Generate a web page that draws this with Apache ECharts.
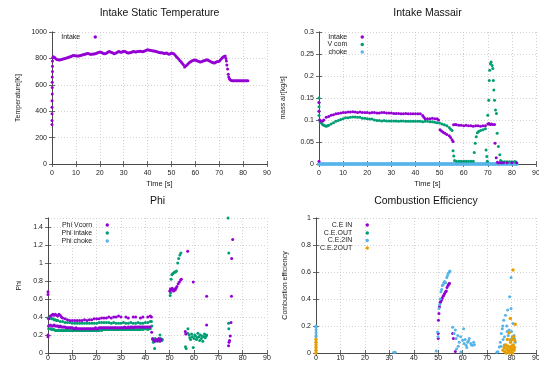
<!DOCTYPE html>
<html><head><meta charset="utf-8">
<script src="https://cdn.jsdelivr.net/npm/echarts@6/dist/echarts.min.js"></script>
<style>html,body{margin:0;padding:0;background:#fff}#c{width:539px;height:365px}</style>
</head><body><div id="c"></div>
<script>
// ---------- DATA ----------
const titles = ['Intake Static Temperature', 'Intake Massair', 'Phi', 'Combustion Efficiency'];
const yNames = ['Temperature[K]', 'mass air[kg/s]', 'Phi', 'Combustion efficiency'];
const xName = 'Time [s]';

// Panel 1: intake static temperature [t, K]
const tempIntake = [[0,300],[0,330],[0,380],[0,430],[0,480],[0.1,530],[0.1,580],[0.1,620],[0.1,660],[0.2,700],[0.2,740],[0.2,780],[0.3,805],
[0.5,812],[1,808],[1.5,800],[2,792],[2.5,789],[3,788],[3.5,790],[4,792],[4.5,795],[5,798],[5.5,800],[6,803],[6.5,805],[7,808],[7.5,812],[8,815],[8.5,820],[9,822],[9.5,821],[10,820],[10.5,819],[11,818],[11.5,820],[12,822],[12.5,825],[13,828],[13.5,830],[14,833],[14.5,836],[15,838],[15.5,835],[16,832],[16.5,832],[17,833],[17.5,834],[18,835],[18.5,838],[19,842],[19.5,845],[20,848],[20.5,846],[21,843],[21.5,838],[22,836],[22.5,838],[23,842],[23.5,848],[24,852],[24.5,849],[25,845],[25.5,840],[26,836],[26.5,839],[27,843],[27.5,848],[28,852],[28.5,849],[29,846],[29.5,850],[30,855],[30.5,852],[31,848],[31.5,843],[32,840],[32.5,842],[33,845],[33.5,849],[34,852],[34.5,850],[35,848],[35.5,850],[36,852],[36.5,854],[37,855],[37.5,852],[38,850],[38.5,854],[39,858],[39.5,862],[40,865],[40.5,864],[41,862],[41.5,860],[42,858],[42.5,857],[43,856],[43.5,853],[44,850],[44.5,847],[45,845],[45.5,843],[46,842],[46.5,840],[47,838],[47.5,839],[48,840],[48.5,836],[49,832],[49.5,836],[50,840],[50.5,838],[51,835],[51.5,825],[52,815],[52.5,805],[53,795],[53.5,785],[54,775],[54.5,763],[55,752],[55.5,735],[56,742],[56.5,750],[57,760],[57.5,768],[58,775],[58.5,780],[59,785],[59.5,787],[60,788],[60.5,784],[61,780],[61.5,776],[62,772],[62.5,775],[63,778],[63.5,782],[64,785],[64.5,788],[65,790],[65.5,785],[66,780],[66.5,775],[67,770],[67.5,767],[68,765],[68.5,770],[69,775],[69.5,777],[70,778],[70.5,790],[71,800],[71.5,808],[72,815],[72.5,818],[72.8,800],[73,780],[73.2,750],[73.5,720],[73.8,680],[74,660],[74.3,645],[74.5,640],[75,632],[75.5,630],[76,630],[76.5,630],[77,630],[77.5,630],[78,630],[78.5,630],[79,630],[79.5,630],[80,630],[80.5,630],[81,630],[81.5,630],[82,630]];

// Panel 2: mass air [t, kg/s]
const massIntake = [[0,0.006],[0,0.14],[0,0.12],[0.3,0.1],[0.7,0.098],[1.5,0.098],[2,0.1],[3,0.106],[4,0.108],[5,0.111],[6,0.112],[7,0.114],[8,0.115],[9,0.116],[10,0.117],[11,0.117],[12,0.118],[13,0.118],[14,0.119],[15,0.118],[16,0.117],[17,0.118],[18,0.117],[19,0.117],[20,0.117],[21,0.116],[22,0.117],[23,0.117],[24,0.116],[25,0.116],[26,0.117],[27,0.117],[28,0.116],[29,0.116],[30,0.116],[31,0.115],[32,0.115],[33,0.115],[34,0.114],[35,0.114],[36,0.115],[37,0.114],[38,0.114],[39,0.114],[40,0.114],[41,0.114],[42,0.114],[43,0.11],[43.5,0.106],[44,0.103],[45,0.103],[46,0.103],[47,0.104],[48,0.103],[49,0.103],[49.6,0.1],[50.2,0.078],[50.8,0.075],[51.5,0.072],[52.2,0.07],[53,0.067],[54,0.064],[54.6,0.06],[55.2,0.055],[55.6,0.051],[55.8,0.089],[56.5,0.09],[57,0.089],[58,0.088],[59,0.088],[60,0.087],[61,0.088],[62,0.087],[63,0.087],[64,0.086],[65,0.087],[66,0.087],[67,0.086],[68,0.087],[69,0.087],[70,0.091],[70.5,0.092],[71,0.09],[71.5,0.091],[72,0.09],[72.8,0.09],[73,0.047],[73.5,0.014],[74,0.004],[74.6,0.003],[75.5,0.003],[76.5,0.003],[78,0.003],[80,0.003],[82,0.003]];
const massVcom = [[0,0.15],[0,0.14],[0,0.13],[0,0.12],[0,0.11],[0.2,0.1],[0.5,0.095],[1,0.093],[1.5,0.09],[2,0.088],[2.5,0.087],[3,0.086],[3.5,0.087],[4,0.088],[5,0.091],[6,0.094],[7,0.097],[8,0.099],[9,0.101],[10,0.103],[11,0.105],[12,0.105],[13,0.106],[14,0.107],[15,0.107],[16,0.106],[17,0.106],[18,0.104],[19,0.104],[20,0.103],[21,0.102],[22,0.102],[23,0.1],[24,0.099],[25,0.099],[26,0.098],[27,0.099],[28,0.098],[29,0.098],[30,0.098],[31,0.098],[32,0.098],[33,0.097],[34,0.098],[35,0.098],[36,0.097],[37,0.097],[38,0.097],[39,0.097],[40,0.097],[41,0.097],[42,0.097],[43,0.096],[44,0.097],[45,0.097],[46,0.096],[47,0.096],[48,0.095],[49,0.094],[50,0.093],[51,0.091],[52,0.089],[53,0.087],[54,0.083],[54.6,0.079],[55.2,0.076],[55.6,0.03],[55.9,0.018],[56.2,0.008],[57,0.006],[58,0.006],[59,0.006],[60,0.006],[61,0.006],[62,0.006],[63,0.006],[64,0.006],[64.4,0.026],[64.8,0.047],[65.2,0.062],[65.7,0.071],[66.2,0.074],[67,0.076],[68,0.078],[69,0.08],[69.3,0.032],[69.6,0.017],[69.8,0.006],[70,0.111],[70.4,0.145],[70.6,0.19],[70.8,0.213],[71.1,0.228],[71.4,0.232],[71.8,0.224],[72.1,0.217],[72.3,0.19],[72.5,0.168],[72.8,0.145],[73.2,0.123],[73.6,0.115],[73.9,0.07],[74.4,0.04],[75,0.021],[75.3,0.008],[76,0.005],[77,0.005],[78,0.005],[79,0.005],[80,0.005],[81,0.005],[81.5,0.005]];
const massChoke = [[0,0],[1,0],[2,0],[3,0],[4,0],[5,0],[6,0],[7,0],[8,0],[9,0],[10,0],[11,0],[12,0],[13,0],[14,0],[15,0],[16,0],[17,0],[18,0],[19,0],[20,0],[21,0],[22,0],[23,0],[24,0],[25,0],[26,0],[27,0],[28,0],[29,0],[30,0],[31,0],[32,0],[33,0],[34,0],[35,0],[36,0],[37,0],[38,0],[39,0],[40,0],[41,0],[42,0],[43,0],[44,0],[45,0],[46,0],[47,0],[48,0],[49,0],[50,0],[51,0],[52,0],[53,0],[54,0],[55,0],[56,0],[57,0],[58,0],[59,0],[60,0],[61,0],[62,0],[63,0],[64,0],[65,0],[66,0],[67,0],[68,0],[69,0],[70,0],[71,0],[72,0],[73,0],[74,0],[75,0],[76,0],[77,0],[78,0],[79,0],[80,0],[81,0],[82,0]];

// Panel 3: Phi [t, phi]
const phiVcorn = [[0,0.65],[0,0.68],[0,0.2],[0,0.18],[0.2,0.3],[0.3,0.38],
[1,0.41],[1.5,0.42],[2,0.43],[2.5,0.42],[3,0.43],[3.5,0.42],[4,0.41],[4.5,0.43],[5,0.42],[5.5,0.4],[6,0.39],[7,0.38],[8,0.37],[9,0.36],[10,0.36],[11,0.36],[12,0.36],[13,0.36],[14,0.36],[15,0.37],[16,0.36],[17,0.37],[18,0.37],[19,0.38],[20,0.38],[21,0.38],[22,0.39],[23,0.39],[24,0.39],[25,0.4],[26,0.39],[27,0.4],[28,0.4],[29,0.41],[30,0.4],[32,0.4],[33,0.39],[35,0.4],[36,0.4],[38,0.39],[39,0.4],[41,0.4],[42,0.41],
[1,0.31],[1.5,0.3],[2,0.3],[2.5,0.31],[3,0.3],[3.5,0.3],[4,0.3],[4.5,0.29],[5,0.3],[5.5,0.29],[6,0.29],[6.5,0.29],[7,0.29],[7.5,0.28],[8,0.28],[8.5,0.28],[9,0.28],[9.5,0.28],[10,0.28],[10.5,0.27],[11,0.27],[11.5,0.28],[12,0.27],[12.5,0.27],[13,0.27],[13.5,0.27],[14,0.27],[14.5,0.27],[15,0.27],[15.5,0.27],[16,0.27],[16.5,0.27],[17,0.27],[17.5,0.27],[18,0.27],[18.5,0.27],[19,0.27],[19.5,0.28],[20,0.27],[20.5,0.27],[21,0.28],[21.5,0.28],[22,0.28],[22.5,0.28],[23,0.28],[23.5,0.28],[24,0.28],[24.5,0.28],[25,0.28],[25.5,0.28],[26,0.28],[26.5,0.28],[27,0.28],[27.5,0.28],[28,0.28],[28.5,0.28],[29,0.28],[29.5,0.28],[30,0.28],[30.5,0.28],[31,0.28],[31.5,0.29],[32,0.28],[32.5,0.28],[33,0.29],[33.5,0.28],[34,0.29],[34.5,0.29],[35,0.28],[35.5,0.29],[36,0.29],[36.5,0.29],[37,0.29],[37.5,0.29],[38,0.29],[38.5,0.29],[39,0.29],[39.5,0.29],[40,0.29],[40.5,0.29],[41,0.29],[41.5,0.29],[42,0.29],
[42.5,0.4],[42.6,0.23],[43,0.16],[43.5,0.14],[44,0.13],[44.5,0.15],[45,0.14],[45.5,0.16],[46,0.13],[46.5,0.15],
[50,0.69],[50.3,0.71],[50.6,0.7],[51,0.72],[51.3,0.7],[51.6,0.69],[52,0.71],[52.3,0.7],[52.6,0.72],[53,0.74],[53.5,0.77],[54,0.79],[54.5,0.81],[54.8,0.82],
[56.4,0.24],[56.6,0.21],[57.4,1.13],[59.7,0.79],[65.2,0.63],[65.2,0.31],[74.2,0.08],[74.4,0.12],[74.6,0.14],[74.9,0.19],[75.2,0.34],[75.4,0.63],[75.5,1.05],[75.9,1.26]];
const phiIntake = [[0,0.39],[0.5,0.39],[1,0.39],[1.5,0.38],[2,0.38],[2.5,0.37],[3,0.37],[3.5,0.36],[4,0.36],[5,0.35],[6,0.35],[7,0.34],[8,0.34],[9,0.34],[10,0.33],[11,0.33],[12,0.33],[13,0.33],[14,0.33],[15,0.33],[16,0.33],[17,0.33],[18,0.33],[19,0.33],[20,0.33],[21,0.34],[22,0.34],[23,0.34],[24,0.34],[25,0.34],[26,0.33],[27,0.34],[28,0.33],[29,0.33],[30,0.33],[31,0.34],[32,0.33],[33,0.33],[34,0.34],[35,0.33],[36,0.33],[37,0.34],[38,0.33],[39,0.33],[40,0.34],[41,0.34],[42,0.35],
[0.3,0.27],[1,0.27],[1.5,0.26],[2,0.26],[2.5,0.26],[3,0.25],[3.5,0.25],[4,0.25],[4.5,0.25],[5,0.25],[5.5,0.25],[6,0.25],[6.5,0.25],[7,0.25],[7.5,0.25],[8,0.25],[8.5,0.25],[9,0.25],[9.5,0.25],[10,0.25],[10.5,0.25],[11,0.25],[11.5,0.25],[12,0.25],[12.5,0.25],[13,0.25],[13.5,0.25],[14,0.25],[14.5,0.25],[15,0.25],[15.5,0.25],[16,0.25],[16.5,0.25],[17,0.25],[17.5,0.25],[18,0.25],[18.5,0.25],[19,0.25],[19.5,0.25],[20,0.25],[20.5,0.25],[21,0.25],[21.5,0.26],[22,0.25],[22.5,0.26],[23,0.26],[23.5,0.26],[24,0.26],[24.5,0.26],[25,0.26],[25.5,0.26],[26,0.26],[26.5,0.26],[27,0.26],[27.5,0.26],[28,0.26],[28.5,0.26],[29,0.26],[29.5,0.26],[30,0.26],[30.5,0.26],[31,0.26],[31.5,0.26],[32,0.26],[32.5,0.26],[33,0.26],[33.5,0.26],[34,0.26],[34.5,0.26],[35,0.26],[35.5,0.26],[36,0.26],[36.5,0.26],[37,0.26],[37.5,0.26],[38,0.26],[38.5,0.27],[39,0.26],[39.5,0.27],[40,0.27],[40.5,0.27],[41,0.26],[41.5,0.27],[42,0.27],
[42.5,0.35],[42.7,0.3],[43,0.15],[43.3,0.12],[43.8,0.05],[44,0.16],[44.5,0.14],[45,0.13],[45.5,0.15],[46,0.2],[46.3,0.16],[46.8,0.14],[47,0.15],
[50.2,0.64],[50.4,0.67],[50.6,0.82],[50.9,0.87],[51.2,0.88],[51.6,0.89],[52,0.9],[52.4,0.9],[52.8,0.91],[53.3,1.0],[53.7,1.05],[54.2,1.09],[54.6,1.11],
[56.5,0.07],[56.8,0.05],[57.4,0.22],[57.5,0.27],[58,0.2],[58.3,0.17],[58.6,0.15],[59,0.21],[59.3,0.18],[59.7,0.06],[60,0.16],[60.3,0.2],[60.6,0.19],[61,0.15],[61.3,0.17],[61.6,0.22],[62,0.18],[62.3,0.14],[62.6,0.2],[63,0.16],[63.3,0.19],[63.6,0.13],[64,0.18],[64.3,0.21],[64.6,0.17],[65,0.19],[65.2,0.2],
[74.2,0.33],[74.3,0.27],[74.3,1.11],[74.0,1.5]];
const phiChoke = [];

// Panel 4: combustion efficiency [t, eff]
const ceIn = [[50,0.107],[50,0.144],[50.1,0.243],[50.3,0.293],[50.5,0.342],[50.8,0.375],[51,0.38],[51.3,0.39],[51.6,0.405],[52,0.42],[52.3,0.43],[52.6,0.44],[53,0.454],[53.3,0.46],[53.6,0.486],[54,0.5],[54.3,0.51],[54.6,0.516],[55.9,0.144],[56.2,0.107],[57,0.012]];
const ceOut = [];
const ce2In = [[0,0.2],[0,0.19],[0,0.17],[0,0.15],[0,0.13],[0,0.12],[31.8,0.005],[32.4,0.005],[49.2,0.015],[49.7,0.156],[49.9,0.12],[50.3,0.33],[50.6,0.36],[50.8,0.4],[51.1,0.454],[51.4,0.47],[51.7,0.5],[52,0.505],[52.3,0.52],[52.6,0.53],[53,0.52],[53.5,0.56],[53.8,0.575],[54.1,0.59],[54.5,0.6],[54.8,0.608],
[55.9,0.19],[56.5,0.144],[57,0.17],[57.3,0.107],[57.5,0.03],[58,0.13],[58.2,0.05],[58.6,0.08],[59.2,0.12],[59.3,0.007],[60,0.094],[60.4,0.18],[60.6,0.07],[61,0.1],[61.4,0.057],[61.7,0.04],[62,0.08],[62.4,0.09],[62.7,0.107],[63.3,0.07],[63.6,0.06],[64.1,0.057],[64.5,0.08],[64.8,0.062],
[74,0.005],[74.4,0.01],[75,0.045],[75.4,0.08],[75.7,0.05],[75.8,0.144],[76.2,0.18],[76.4,0.2],[76.5,0.1],[76.8,0.243],[77,0.06],[77.1,0.12],[77.5,0.28],[78,0.2],[78.2,0.16],[78.4,0.318],[78.6,0.13],[79,0.17],[79.2,0.417],[79.5,0.1],[79.8,0.56],[79.8,0.33],[80,0.16],[80.3,0.12],[80.6,0.218],[81,0.13],[81.2,0.107],[81.5,0.08]];
const ce2Out = [[0,0],[0,0.02],[0,0.04],[0,0.06],[0,0.08],[0,0.1],[76.5,0.02],[77,0.04],[77.3,0.01],[77.6,0.06],[77.8,0],[78,0.03],[78.3,0.1],[78.5,0.05],[78.8,0.02],[78.9,0.01],[79,0.15],[79.1,0],[79.3,0.04],[79.5,0.256],[79.6,0.08],[79.8,0.02],[80,0.05],[80.2,0.1],[80.3,0.03],[80.4,0],[80.6,0.615],[80.7,0.06],[80.8,0.12],[81,0.02],[81.2,0.04],[81.3,0.09],[81.5,0.213]];

// Axis ranges / ticks
const xRange = [0, 90, 10];
const yRanges = [[0, 1000, 200], [0, 0.3, 0.05], [0, 1.5, 0.2], [0, 1, 0.2]];

// ---------- LAYOUT / STYLE ----------
const FONT = 'Liberation Sans';
const C = { purple: '#9400d3', green: '#009e73', blue: '#56b4e9', orange: '#e69f00' };
const grids = [
  { left: 52, top: 32, width: 215, height: 132 },
  { left: 319, top: 32, width: 217, height: 132 },
  { left: 48, top: 218, width: 219, height: 135 },
  { left: 316, top: 218, width: 220, height: 135 }
];
const titleCenters = [[159.5, 14], [427.5, 14], [157.5, 202], [426, 202]];
const yNameGaps = [30, 32, 25, 27];

const chart = echarts.init(document.getElementById('c'), null, { renderer: 'canvas' });

const tickStyle = { show: true, inside: true, length: 3, lineStyle: { color: '#444', width: 0.8 } };
const split = { show: true, lineStyle: { color: '#c8c8c8', type: [1, 2], width: 0.8 } };
const xAxes = [], yAxes = [];
grids.forEach((g, i) => {
  xAxes.push({ type: 'value', gridIndex: i, min: xRange[0], max: xRange[1], interval: xRange[2],
    name: xName, nameLocation: 'middle', nameGap: 16,
    nameTextStyle: { fontSize: 7.5, fontFamily: FONT, color: '#222' },
    axisLine: { show: true, lineStyle: { color: '#444', width: 0.8 } },
    axisTick: tickStyle, splitLine: split,
    axisLabel: { fontSize: 7, fontFamily: FONT, color: '#222', margin: i < 2 ? 6 : 2 } });
  const yr = yRanges[i];
  yAxes.push({ type: 'value', gridIndex: i, min: yr[0], max: yr[1], interval: yr[2],
    name: yNames[i], nameLocation: 'middle', nameGap: yNameGaps[i],
    nameTextStyle: { fontSize: 7, fontFamily: FONT, color: '#222' },
    axisLine: { show: true, lineStyle: { color: '#444', width: 0.8 } },
    axisTick: tickStyle, splitLine: split,
    axisLabel: { fontSize: 7, fontFamily: FONT, color: '#222', margin: 5, showMaxLabel: i !== 2,
      formatter: v => String(v) } });
});
grids.forEach((g, i) => {
  xAxes.push({ type: 'value', gridIndex: i, position: 'top', min: xRange[0], max: xRange[1], interval: xRange[2],
    axisLine: { show: true, lineStyle: { color: '#444', width: 0.8 } }, axisTick: tickStyle,
    axisLabel: { show: false }, splitLine: { show: false } });
  const yr = yRanges[i];
  yAxes.push({ type: 'value', gridIndex: i, position: 'right', min: yr[0], max: yr[1], interval: yr[2],
    axisLine: { show: true, lineStyle: { color: '#444', width: 0.8 } }, axisTick: tickStyle,
    axisLabel: { show: false }, splitLine: { show: false } });
});

const mk = (name, data, color, gi, size) => ({
  type: 'scatter', name, data, xAxisIndex: gi, yAxisIndex: gi,
  symbol: 'circle', symbolSize: size || 3, itemStyle: { color, opacity: 1 },
  silent: true, animation: false, clip: true
});

const series = [
  mk('Intake', tempIntake, C.purple, 0),
  mk('choke', massChoke, C.blue, 1, 4),
  mk('V com', massVcom, C.green, 1),
  mk('Intake', massIntake, C.purple, 1),
  mk('Phi choke', phiChoke, C.blue, 2),
  mk('Phi intake', phiIntake, C.green, 2),
  mk('Phi Vcorn', phiVcorn, C.purple, 2),
  mk('C.E.OUT', ceOut, C.green, 3),
  mk('C.E IN', ceIn, C.purple, 3),
  mk('C.E.2IN', ce2In, C.blue, 3),
  mk('C.E.2OUT', ce2Out, C.orange, 3, 3.5)
];

const legendSpec = [
  ['Intake', 95, 38],
  ['Intake', 362, 38], ['V com', 362, 45.5], ['choke', 362, 53],
  ['Phi Vcorn', 107, 226], ['Phi intake', 107, 234], ['Phi choke', 107, 242],
  ['C.E IN', 367, 226], ['C.E.OUT', 367, 234], ['C.E.2IN', 367, 241.5], ['C.E.2OUT', 367, 249]
];
const legends = legendSpec.map(([n, mx, my]) => ({
  data: [{ name: n, icon: 'circle' }], right: 539 - mx - 2, top: my - 4.5, padding: 0,
  itemWidth: 20, itemHeight: 3.5, selectedMode: false, align: 'right', orient: 'vertical',
  textStyle: { fontSize: 7, fontFamily: FONT, color: '#222' }
}));

const titleArr = titles.map((t, i) => ({
  text: t, left: titleCenters[i][0], top: titleCenters[i][1] - 6, textAlign: 'center', padding: 0,
  textStyle: { fontSize: 10.5, fontWeight: 'normal', fontFamily: FONT, color: '#111' }
}));

chart.setOption({
  backgroundColor: '#fff', animation: false,
  title: titleArr,
  grid: grids.map(g => Object.assign({ containLabel: false, outerBoundsMode: 'none', show: false }, g)),
  xAxis: xAxes, yAxis: yAxes, legend: legends, series
});
</script></body></html>
